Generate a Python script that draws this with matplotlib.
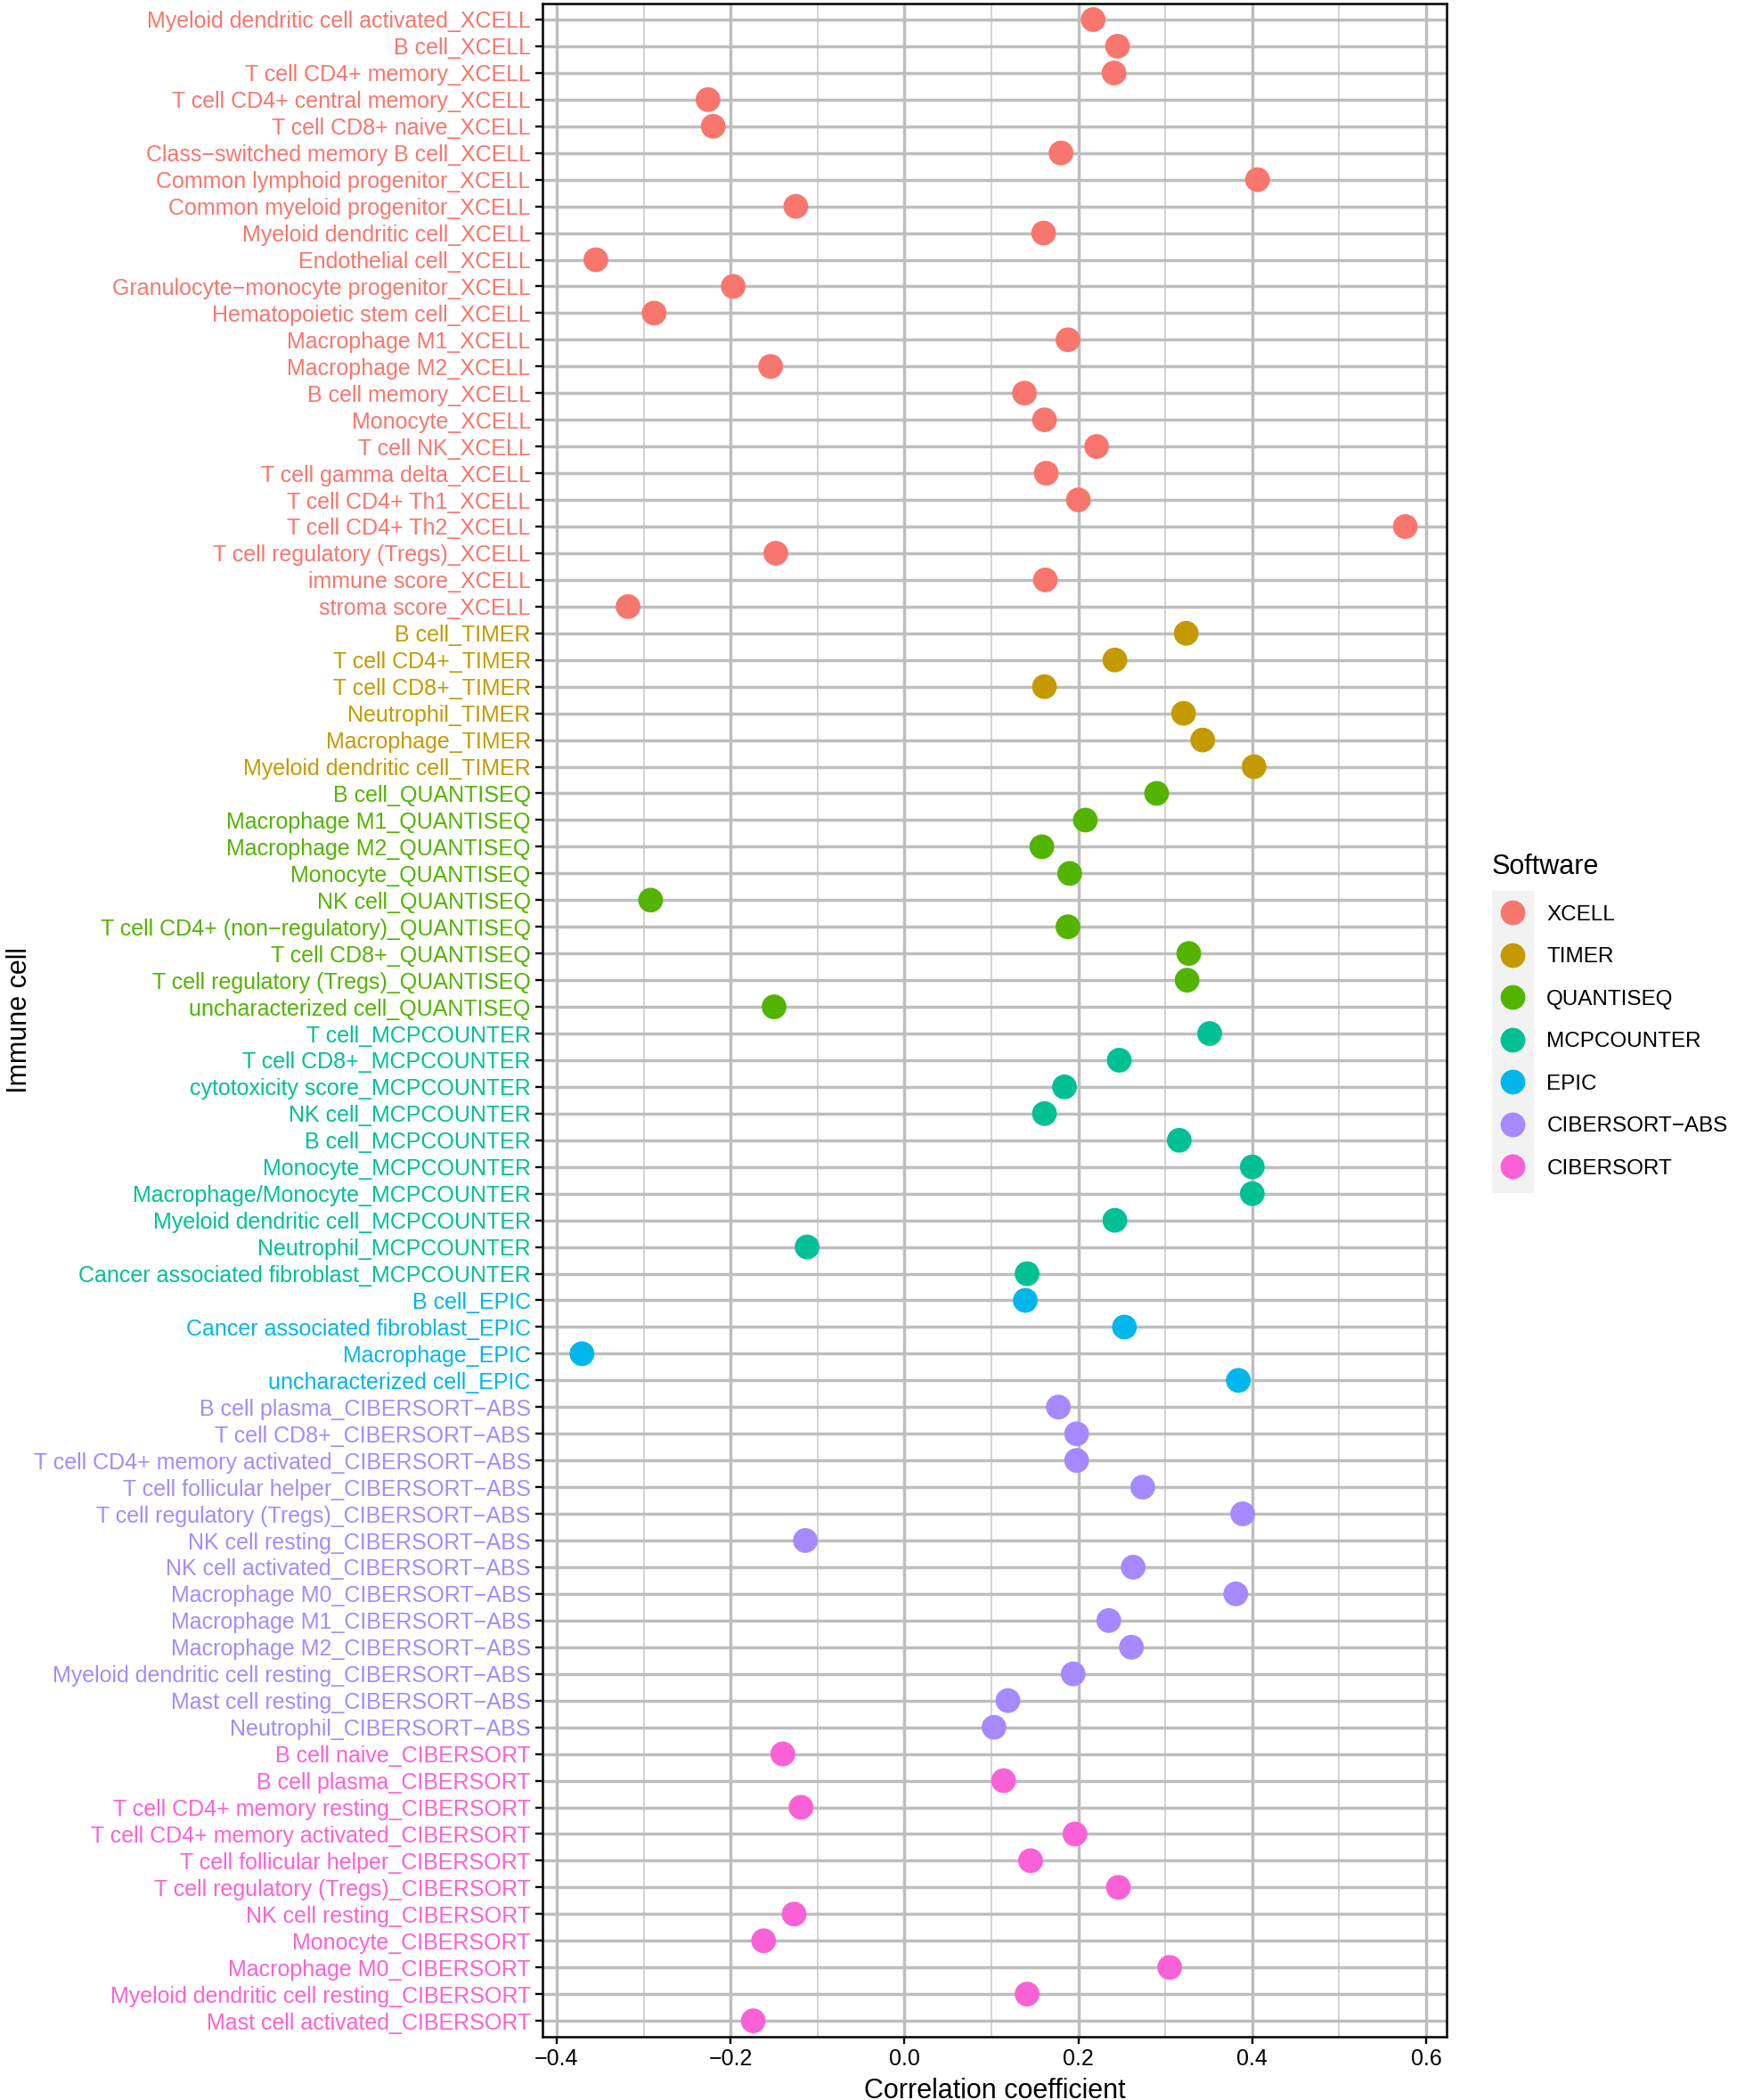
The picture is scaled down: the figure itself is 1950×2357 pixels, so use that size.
import matplotlib.pyplot as plt
from matplotlib.lines import Line2D
from matplotlib.patches import Rectangle
import numpy as np

plt.rcParams["font.family"] = ["Liberation Sans", "DejaVu Sans"]

# Correlation of each immune cell estimate with the gene, grouped by deconvolution software
software = ["XCELL", "TIMER", "QUANTISEQ", "MCPCOUNTER", "EPIC", "CIBERSORT\u2212ABS", "CIBERSORT"]
colors = ["#F8766D", "#C49A00", "#53B400", "#00C094", "#00B6EB", "#A58AFF", "#FB61D7"]

xcell_cells = [
    "Myeloid dendritic cell activated", "B cell", "T cell CD4+ memory",
    "T cell CD4+ central memory", "T cell CD8+ naive", "Class\u2212switched memory B cell",
    "Common lymphoid progenitor", "Common myeloid progenitor", "Myeloid dendritic cell",
    "Endothelial cell", "Granulocyte\u2212monocyte progenitor", "Hematopoietic stem cell",
    "Macrophage M1", "Macrophage M2", "B cell memory", "Monocyte", "T cell NK",
    "T cell gamma delta", "T cell CD4+ Th1", "T cell CD4+ Th2",
    "T cell regulatory (Tregs)", "immune score", "stroma score",
]
xcell_r = [0.217, 0.245, 0.241, -0.226, -0.220, 0.180, 0.406, -0.125, 0.160,
           -0.355, -0.197, -0.288, 0.188, -0.154, 0.138, 0.161, 0.221, 0.163,
           0.200, 0.576, -0.148, 0.162, -0.318]

timer_cells = ["B cell", "T cell CD4+", "T cell CD8+", "Neutrophil", "Macrophage",
               "Myeloid dendritic cell"]
timer_r = [0.324, 0.242, 0.161, 0.321, 0.343, 0.402]

quantiseq_cells = ["B cell", "Macrophage M1", "Macrophage M2", "Monocyte", "NK cell",
                   "T cell CD4+ (non\u2212regulatory)", "T cell CD8+",
                   "T cell regulatory (Tregs)", "uncharacterized cell"]
quantiseq_r = [0.290, 0.208, 0.158, 0.190, -0.292, 0.188, 0.327, 0.325, -0.150]

mcp_cells = ["T cell", "T cell CD8+", "cytotoxicity score", "NK cell", "B cell", "Monocyte",
             "Macrophage/Monocyte", "Myeloid dendritic cell", "Neutrophil",
             "Cancer associated fibroblast"]
mcp_r = [0.351, 0.247, 0.184, 0.161, 0.316, 0.400, 0.400, 0.242, -0.112, 0.141]

epic_cells = ["B cell", "Cancer associated fibroblast", "Macrophage", "uncharacterized cell"]
epic_r = [0.139, 0.253, -0.371, 0.384]

cibersort_abs_cells = ["B cell plasma", "T cell CD8+", "T cell CD4+ memory activated",
                       "T cell follicular helper", "T cell regulatory (Tregs)", "NK cell resting",
                       "NK cell activated", "Macrophage M0", "Macrophage M1", "Macrophage M2",
                       "Myeloid dendritic cell resting", "Mast cell resting", "Neutrophil"]
cibersort_abs_r = [0.177, 0.198, 0.198, 0.274, 0.389, -0.114, 0.263, 0.381, 0.235, 0.261,
                   0.194, 0.119, 0.103]

cibersort_cells = ["B cell naive", "B cell plasma", "T cell CD4+ memory resting",
                   "T cell CD4+ memory activated", "T cell follicular helper",
                   "T cell regulatory (Tregs)", "NK cell resting", "Monocyte", "Macrophage M0",
                   "Myeloid dendritic cell resting", "Mast cell activated"]
cibersort_r = [-0.140, 0.114, -0.119, 0.196, 0.145, 0.246, -0.127, -0.162, 0.305, 0.141, -0.174]

groups = [xcell_cells, timer_cells, quantiseq_cells, mcp_cells, epic_cells,
          cibersort_abs_cells, cibersort_cells]
values = [xcell_r, timer_r, quantiseq_r, mcp_r, epic_r, cibersort_abs_r, cibersort_r]

labels, r, cols = [], [], []
for sw, col, cells, vals in zip(software, colors, groups, values):
    labels += [f"{c}_{sw}" for c in cells]
    r += vals
    cols += [col] * len(cells)
y = np.arange(len(labels))

fig = plt.figure(figsize=(19.5, 23.57), dpi=100)
ax = fig.add_axes([0.3123, 0.0301, 0.5205, 0.9682])

ax.scatter(r, y, s=400, c=cols, linewidths=0, zorder=3)

ax.set_yticks(y)
ax.set_yticklabels(labels, fontsize=18)
for lab, col in zip(ax.get_yticklabels(), cols):
    lab.set_color(col)
ax.set_ylim(len(labels) - 0.4, -0.6)

ax.set_xlim(-0.4164, 0.6235)
ax.set_xticks([-0.4, -0.2, 0.0, 0.2, 0.4, 0.6])
ax.set_xticks([-0.3, -0.1, 0.1, 0.3, 0.5], minor=True)
ax.tick_params(axis="x", which="major", labelsize=18, length=5.5, width=1.7, pad=4)
ax.tick_params(axis="x", which="minor", length=0)
ax.tick_params(axis="y", length=5.5, width=1.7, pad=4)

ax.set_axisbelow(True)
ax.grid(True, which="major", color="#BEBEBE", linewidth=2.5)
ax.grid(True, which="minor", axis="x", color="#C8C8C8", linewidth=1.1)
for s in ax.spines.values():
    s.set_linewidth(1.8)
    s.set_color("black")

ax.set_xlabel("Correlation coefficient", fontsize=22, labelpad=6)
ax.set_ylabel("Immune cell", fontsize=22)
ax.yaxis.set_label_coords(-0.564, 0.5)

# legend
handles = [Line2D([], [], marker="o", linestyle="", markersize=20, markeredgewidth=0,
                  color=c) for c in colors]
fig.add_artist(Rectangle((1675 / 1950, 1 - 1339 / 2357), 47 / 1950, 339 / 2357,
                         transform=fig.transFigure, facecolor="#F2F2F2",
                         edgecolor="none", zorder=0))
leg = fig.legend(handles, software, loc="upper left",
                 bbox_to_anchor=(1675 / 1950, 1 - 958 / 2357),
                 frameon=False, fontsize=17.5, title="Software", title_fontsize=22,
                 alignment="left", borderpad=0, borderaxespad=0, handlelength=1.9,
                 handletextpad=0.62, labelspacing=1.05)
leg._legend_box.sep = 20

fig.savefig("out.png", dpi=100, facecolor="white")
